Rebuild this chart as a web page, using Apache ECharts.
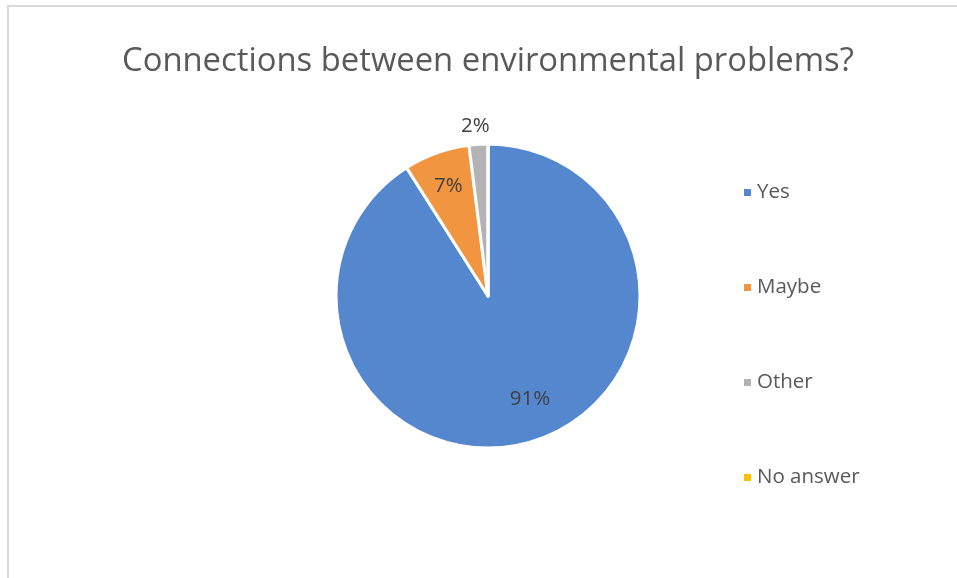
<!DOCTYPE html>
<html>
<head>
<meta charset="utf-8">
<script src="https://cdn.jsdelivr.net/npm/echarts@6/dist/echarts.min.js"></script>
<style>
  html, body { margin: 0; padding: 0; background: #ffffff; }
  #chart { width: 957px; height: 578px; }
</style>
</head>
<body>
<div id="chart"></div>
<script>
// Survey answers, in percent
const categories = ['Yes', 'Maybe', 'Other', 'No answer'];
const shares = [91, 7, 2, 0];
const colors = ['#5587CF', '#F29540', '#B3B3B3', '#FFC000'];

const labelOffsets = [[20, 27], [-13, -36], [17, -6], [0, 0]];

const chart = echarts.init(document.getElementById('chart'), null, { renderer: 'canvas' });

const pieData = categories.map((name, i) => ({
  name: name,
  value: shares[i],
  itemStyle: { color: colors[i] },
  label: shares[i] === 0
    ? { show: false }
    : (name === 'Other'
        ? { position: 'outside', offset: labelOffsets[i] }
        : { position: 'inside', offset: labelOffsets[i] })
}));

chart.setOption({
  backgroundColor: '#ffffff',
  animation: false,
  title: {
    text: 'Connections between environmental problems?',
    left: 117,
    top: 40,
    textStyle: {
      fontFamily: 'Open Sans',
      fontSize: 32.8,
      fontWeight: 'normal',
      color: '#595959'
    }
  },
  legend: {
    orient: 'vertical',
    left: 737,
    top: 177,
    itemWidth: 9,
    itemHeight: 9,
    itemGap: 74,
    icon: 'rect',
    data: categories,
    textStyle: {
      fontFamily: 'Open Sans',
      fontSize: 20.5,
      lineHeight: 21,
      color: '#595959',
      padding: [0, 0, 0, 0]
    }
  },
  graphic: [{
    type: 'rect',
    shape: { x: 8, y: 6, width: 1000, height: 700 },
    style: { fill: 'none', stroke: '#d9d9d9', lineWidth: 2 },
    silent: true
  }],
  series: [{
    type: 'pie',
    center: [488, 296],
    radius: 152,
    startAngle: 90,
    clockwise: true,
    avoidLabelOverlap: false,
    itemStyle: { borderColor: '#ffffff', borderWidth: 3 },
    label: {
      show: true,
      formatter: p => p.value + '%',
      fontFamily: 'Open Sans',
      fontSize: 20.5,
      color: '#404040'
    },
    labelLine: { show: false, length: 12, length2: 0 },
    emphasis: { disabled: true },
    data: pieData
  }]
});
</script>
</body>
</html>
